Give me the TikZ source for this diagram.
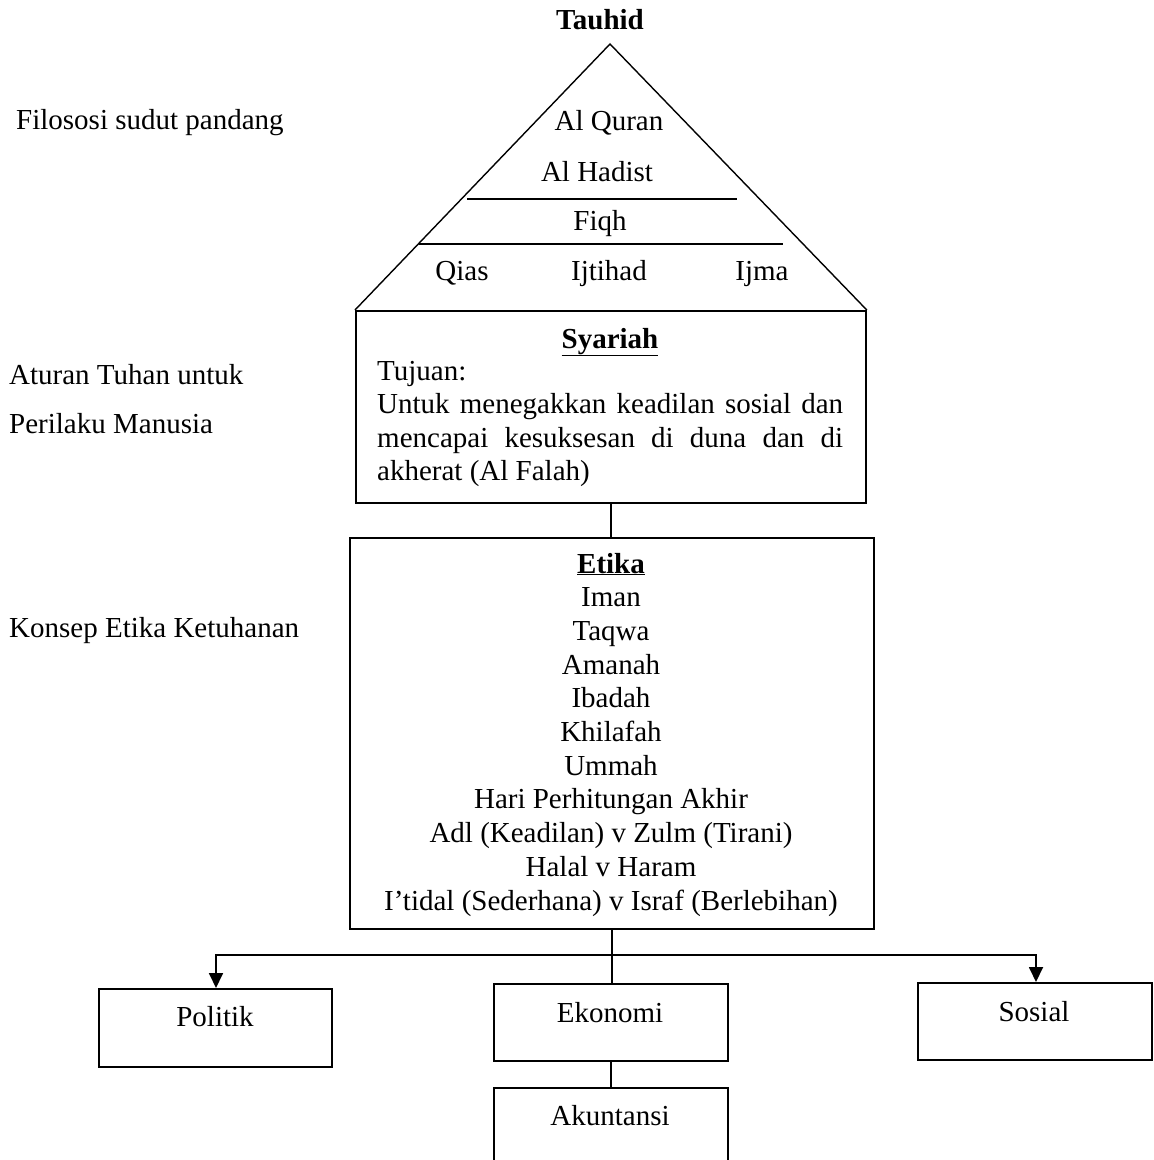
\documentclass[tikz,border=0pt]{standalone}
\usepackage{fontspec}
\setmainfont{Liberation Serif}
\usetikzlibrary{arrows.meta}
\begin{document}
\begin{tikzpicture}[x=1pt,y=-1pt,
  txt/.style={inner sep=0pt, font=\fontsize{29}{33.7}\selectfont},
  boxnode/.style={draw, line width=1.8pt, inner sep=0pt, anchor=north west},
  thin/.style={line width=1.4pt},
  link/.style={line width=1.8pt},
  arr/.style={line width=1.8pt, -{Triangle[length=15pt,width=14pt]}}]
\useasboundingbox (0,0) rectangle (1154,1160);
\clip (0,0) rectangle (1154,1160);
\fill[white] (0,0) rectangle (1154,1160);

% ---- left labels
\node[txt, anchor=base west] (lab1) at (16,129) {Filososi sudut pandang};
\node[txt, anchor=base west] (lab2) at (9,384) {Aturan Tuhan untuk};
\node[txt, anchor=base west] (lab3) at (9,433) {Perilaku Manusia};
\node[txt, anchor=base west] (lab4) at (9,637) {Konsep Etika Ketuhanan};

% ---- boxes
\node[boxnode, minimum width=510pt, minimum height=192pt] (sy) at (355,310) {};
\node[boxnode, minimum width=524pt, minimum height=391pt] (et) at (349,537) {};
\node[boxnode, minimum width=233pt, minimum height=78pt] (po) at (98,988) {};
\node[boxnode, minimum width=234pt, minimum height=77pt] (ek) at (493,983) {};
\node[boxnode, minimum width=234pt, minimum height=77pt] (so) at (917,982) {};
\node[boxnode, minimum width=234pt, minimum height=110pt] (ak) at (493,1087) {};

% ---- triangle (roof)
\coordinate (apex) at (610,44);
\draw[thin] (sy.north west) -- (apex) -- (sy.north east);
\coordinate (l1a) at (467,199); \coordinate (l1b) at (737,199);
\coordinate (l2a) at (419,244); \coordinate (l2b) at (783,244);
\draw[thin] (l1a) -- (l1b);
\draw[thin] (l2a) -- (l2b);

\node[txt, anchor=base, font=\fontsize{29}{33.7}\selectfont\bfseries] (tauhid) at (600,29) {Tauhid};
\node[txt, anchor=base] (quran) at (609,130) {Al Quran};
\node[txt, anchor=base] (hadist) at (597,181) {Al Hadist};
\node[txt, anchor=base] (fiqh) at (600,230) {Fiqh};
\node[txt, anchor=base] (qias) at (462,280) {Qias};
\node[txt, anchor=base] (ijtihad) at (609,280) {Ijtihad};
\node[txt, anchor=base] (ijma) at (762,280) {Ijma};

% ---- Syariah text
\node[txt, anchor=base] (sytitle) at (610,348) {\textbf{\underline{Syariah}}};
\node[txt, anchor=base west] (sy1) at (377,380) {Tujuan:};
\node[txt, anchor=base west] (sy2) at (377,413) {\makebox[466pt][s]{Untuk menegakkan keadilan sosial dan}};
\node[txt, anchor=base west] (sy3) at (377,447) {\makebox[466pt][s]{mencapai kesuksesan di duna dan di}};
\node[txt, anchor=base west] (sy4) at (377,480) {akherat (Al Falah)};

% ---- Etika text
\node[txt, anchor=base] (ettitle) at (611,573) {\textbf{\underline{Etika}}};
\foreach \t [count=\i] in {Iman,Taqwa,Amanah,Ibadah,Khilafah,Ummah,
  Hari Perhitungan Akhir,Adl (Keadilan) v Zulm (Tirani),Halal v Haram,
  I’tidal (Sederhana) v Israf (Berlebihan)}
  \node[txt, anchor=base] (etl\i) at (611,573+33.7*\i) {\t};

% ---- bottom labels
\node[txt, anchor=base] (potxt) at (215,1026) {Politik};
\node[txt, anchor=base] (ektxt) at (610,1022) {Ekonomi};
\node[txt, anchor=base] (sotxt) at (1034,1021) {Sosial};
\node[txt, anchor=base] (aktxt) at (610,1125) {Akuntansi};

% ---- connectors
\draw[link] (sy.south) -- (sy.south |- et.north);
\draw[link] (et.south) -- (et.south |- ek.north);
\coordinate (hl) at (216,955);
\coordinate (hr) at (1036,955);
\draw[arr] (et.south |- hl) -- (hl) -- (hl |- po.north);
\draw[arr] (et.south |- hr) -- (hr) -- (hr |- so.north);
\draw[link] (ek.south) -- (ek.south |- ak.north);
\end{tikzpicture}
\end{document}
